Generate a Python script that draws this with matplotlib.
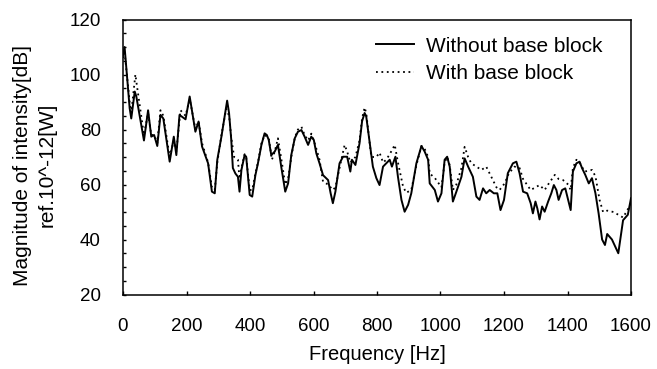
import numpy as np
import matplotlib
matplotlib.use('Agg')
import matplotlib.pyplot as plt
from matplotlib.ticker import MultipleLocator

plt.rcParams['font.family'] = ['Liberation Sans', 'DejaVu Sans']

# sound intensity spectrum
freq_without = [0, 5, 21, 26, 37, 42, 66, 79, 89, 98, 108, 118, 127, 147, 160, 168, 178, 197,
                210, 217, 228, 238, 249, 268, 280, 289, 297, 310, 320, 328, 334, 341, 346, 354,
                362, 367, 373, 383, 388, 399, 407, 417, 425, 436, 446, 453, 459, 467, 478, 488,
                499, 511, 520, 530, 541, 551, 562, 572, 583, 593, 601, 609, 619, 630, 646, 654,
                661, 669, 682, 693, 706, 716, 721, 732, 745, 753, 761, 766, 777, 787, 798, 808,
                819, 829, 840, 847, 858, 866, 877, 887, 898, 908, 924, 940, 950, 961, 966, 982,
                992, 1003, 1013, 1021, 1029, 1039, 1050, 1066, 1076, 1087, 1102, 1113, 1123,
                1134, 1144, 1155, 1168, 1179, 1189, 1200, 1212, 1228, 1239, 1249, 1260, 1273,
                1284, 1291, 1299, 1305, 1312, 1320, 1328, 1339, 1349, 1357, 1365, 1372, 1383,
                1393, 1402, 1410, 1417, 1428, 1438, 1446, 1456, 1467, 1477, 1488, 1498, 1509,
                1518, 1525, 1540, 1560, 1575, 1590, 1600]
db_without = [107, 110, 87.7, 84, 93.8, 92, 76, 87, 77.4, 78, 74, 85.3, 84, 68.3, 77.4, 70.7,
              85.3, 83.7, 92, 87, 79.2, 82.9, 73.8, 67.7, 57.4, 56.8, 69, 77.4, 84.7, 90.5, 86,
              76.2, 66, 64, 62.8, 57.4, 65.3, 70.7, 70.1, 56.2, 55.6, 63.4, 67.7, 74.4, 78.6,
              78, 76.2, 70.7, 72, 74.4, 66, 57.4, 60.4, 70.7, 76.8, 79.2, 79.8, 77.4, 74.4,
              77.4, 76.2, 71.3, 67.7, 63.4, 61.6, 56.8, 53.2, 57.4, 67.7, 70.1, 70.1, 64.7, 69,
              67.1, 75, 83, 86, 84.8, 75.1, 66.5, 62.3, 59.8, 66.5, 67.7, 69, 66.5, 70.1, 62.8,
              54.4, 50.1, 52.6, 56.8, 67.7, 74, 72, 69, 60.4, 58, 53.8, 56.8, 69, 70.1, 66.5,
              53.8, 57.4, 62.8, 69.5, 66.5, 62.8, 55.6, 54.4, 58.6, 56.8, 58, 56.8, 56.8, 50.7,
              54.4, 64.1, 67.7, 68.3, 64.1, 57.4, 56.8, 53.2, 49.5, 53.8, 51.3, 47.3, 52, 50.1,
              53.8, 56.8, 59.8, 58, 54.4, 58, 58.6, 54.4, 50.7, 64.7, 67.7, 68.3, 65.9, 63.5,
              60.4, 62.3, 56.8, 49.5, 40, 38, 42, 40, 35, 47, 49, 55]

freq_with = [0, 5, 21, 26, 39, 45, 66, 79, 89, 98, 108, 118, 127, 147, 160, 168, 181, 197,
             210, 217, 228, 238, 249, 268, 280, 289, 297, 310, 325, 334, 341, 350, 362, 367,
             373, 383, 388, 399, 407, 417, 425, 436, 446, 459, 469, 478, 488, 499, 511, 520,
             530, 541, 551, 562, 572, 583, 593, 601, 609, 619, 630, 646, 661, 669, 682, 698,
             706, 716, 732, 745, 753, 761, 766, 782, 798, 808, 819, 829, 840, 856, 866, 882,
             892, 908, 924, 940, 950, 961, 966, 982, 997, 1003, 1013, 1021, 1029, 1039, 1050,
             1066, 1076, 1087, 1097, 1113, 1129, 1144, 1160, 1176, 1186, 1202, 1215, 1233,
             1249, 1260, 1284, 1312, 1328, 1339, 1360, 1372, 1386, 1402, 1410, 1417, 1428,
             1438, 1454, 1477, 1488, 1501, 1512, 1525, 1545, 1560, 1575, 1590, 1600]
db_with = [106, 108, 90, 86, 100, 95, 78, 86, 78, 78, 75, 87, 85, 70, 76, 72, 87, 85, 91, 87,
           80, 83, 75, 68, 59, 58, 68, 78, 87.5, 85, 77, 70, 69, 62, 66, 71, 70, 58, 58, 64,
           68, 75, 78, 77, 69, 72, 76.8, 69, 60, 62, 70, 77, 80, 81, 78, 76, 78.5, 76, 73, 69,
           61, 60, 58, 59, 66, 74.4, 72, 68, 70, 76, 84, 88, 86, 70, 70, 71.6, 68, 69, 71,
           74.4, 68, 59.3, 57, 58, 67, 74, 73, 70, 64, 62.4, 60, 59, 68, 70, 67, 58, 60, 66,
           73.7, 70, 67.7, 66.5, 65.3, 66.5, 62.8, 59, 58, 60.4, 64, 66.5, 66, 62, 58, 59.8,
           58, 60, 63.5, 62, 61.6, 60, 58, 66, 69, 68, 64.7, 65.3, 63, 54.4, 50, 50.5, 50, 49,
           48, 51, 53]

fig = plt.figure(figsize=(6.57, 3.69), dpi=100)
ax = fig.add_axes([123 / 657, 1 - 294.5 / 369, 508 / 657, 275 / 369])

ax.plot(freq_without, db_without, color='black', lw=1.4, label='Without base block')
ax.plot(freq_with, db_with, color='black', lw=1.3, ls=(0, (1, 2)), label='With base block')

ax.set_xlim(0, 1600)
ax.set_ylim(20, 120)
ax.set_xticks(np.arange(0, 1601, 200))
ax.set_yticks(np.arange(20, 121, 20))
ax.yaxis.set_minor_locator(MultipleLocator(5))
ax.tick_params(axis='x', direction='in', length=3, width=1, pad=17, labelsize=13.5)
ax.tick_params(axis='y', which='both', direction='in', length=2.5, width=1, pad=16, labelsize=13.5)
for s in ax.spines.values():
    s.set_linewidth(1.1)

ax.set_xlabel('Frequency [Hz]', fontsize=14.5, va='center')
ax.xaxis.set_label_coords(0.5, -0.217)
ax.set_ylabel('Magnitude of intensity[dB]\nref.10^-12[W]', fontsize=15,
              va='center', linespacing=1.4)
ax.yaxis.set_label_coords(-0.173, 0.47)

ax.legend(loc='upper right', bbox_to_anchor=(0.943, 0.938), frameon=False, fontsize=15,
          borderpad=0, borderaxespad=0, handlelength=1.85, handletextpad=0.55, labelspacing=0.4)

plt.savefig('out.png', dpi=100)
